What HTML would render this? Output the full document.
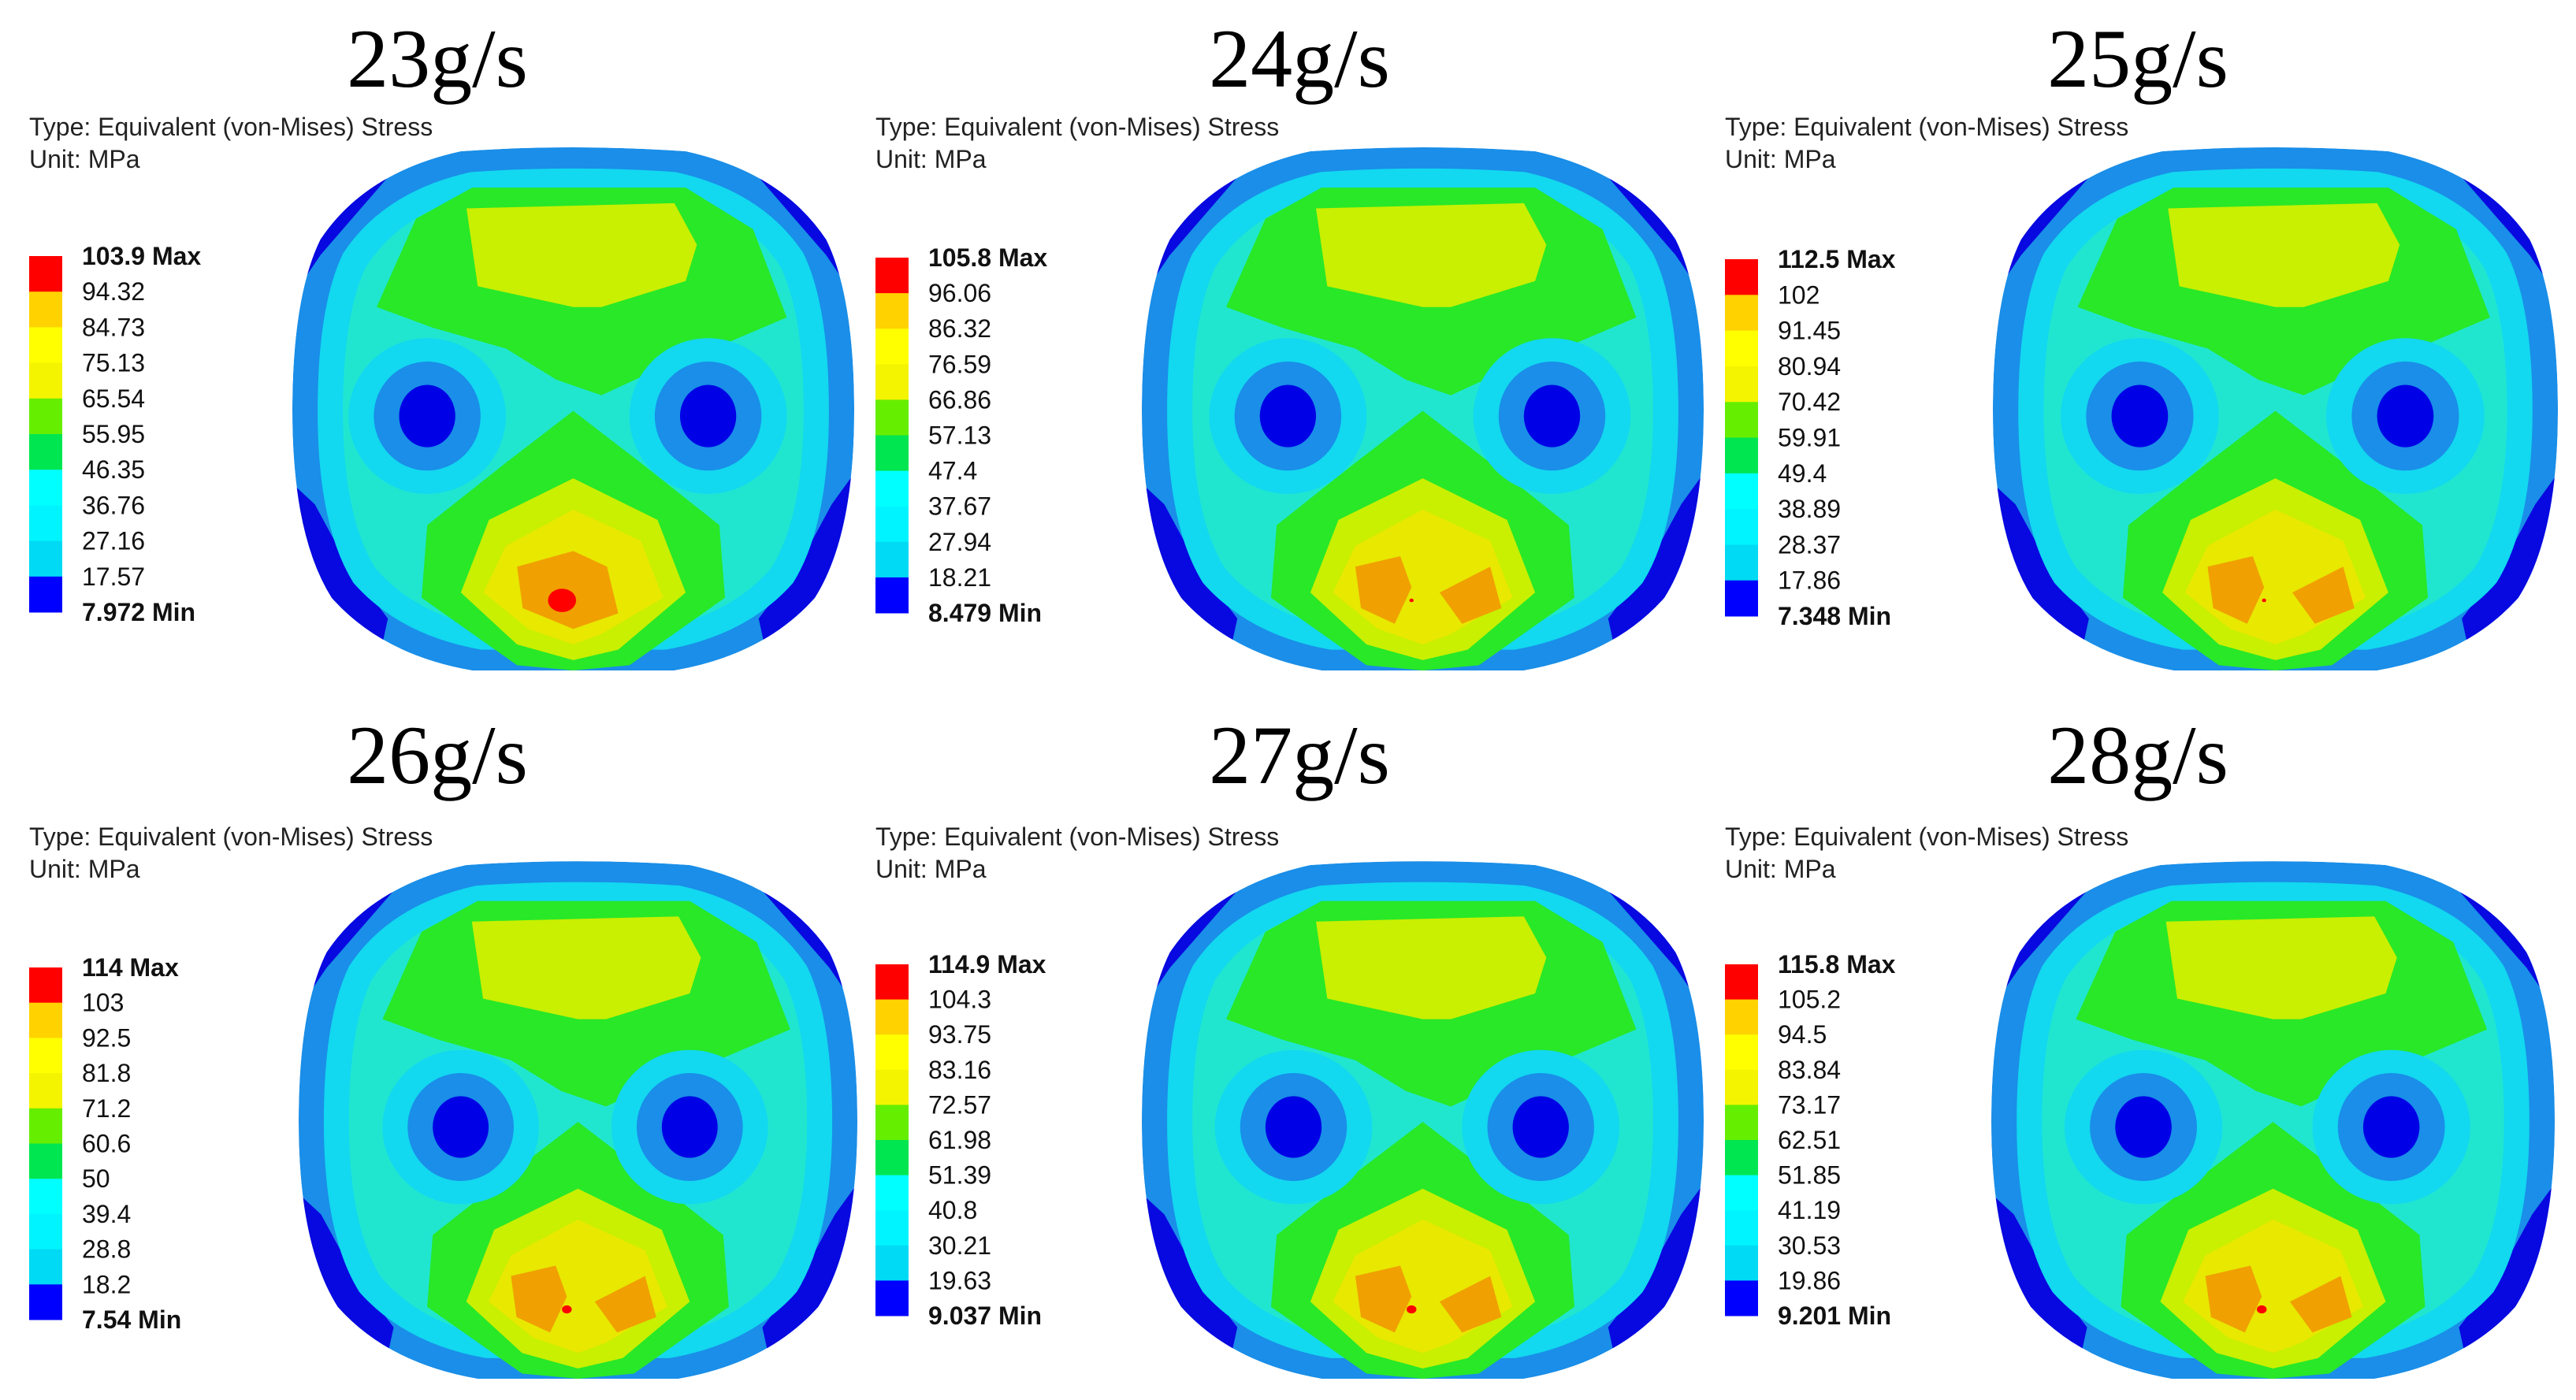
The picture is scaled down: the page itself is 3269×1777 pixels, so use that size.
<!DOCTYPE html>
<html><head><meta charset="utf-8">
<style>
html,body{margin:0;padding:0;background:#fff;}
svg{display:block;}
.title{font-family:"Liberation Serif",serif;font-size:106px;fill:#000;}
.info{font-family:"Liberation Sans",sans-serif;font-size:32px;fill:#222;}
.lab{font-family:"Liberation Sans",sans-serif;font-size:32px;fill:#111;}
.b{font-weight:bold;}
</style></head>
<body>
<svg id="fig" width="3269" height="1777" viewBox="0 0 3269 1777" xmlns="http://www.w3.org/2000/svg"></svg>
<script>
const titles = ["23g/s","24g/s","25g/s","26g/s","27g/s","28g/s"];
const legendLabels = [
 ["103.9","94.32","84.73","75.13","65.54","55.95","46.35","36.76","27.16","17.57","7.972"],
 ["105.8","96.06","86.32","76.59","66.86","57.13","47.4","37.67","27.94","18.21","8.479"],
 ["112.5","102","91.45","80.94","70.42","59.91","49.4","38.89","28.37","17.86","7.348"],
 ["114","103","92.5","81.8","71.2","60.6","50","39.4","28.8","18.2","7.54"],
 ["114.9","104.3","93.75","83.16","72.57","61.98","51.39","40.8","30.21","19.63","9.037"],
 ["115.8","105.2","94.5","83.84","73.17","62.51","51.85","41.19","30.53","19.86","9.201"]
];
const holeX = [[0.24,0.74],[0.26,0.73],[0.26,0.73],[0.29,0.70],[0.27,0.71],[0.27,0.71]];
const redSize = [1.0,0.15,0.15,0.35,0.35,0.35];
const bandColors = ["#ff0000","#ffd200","#ffff00","#f4f400","#66ee00","#00e650","#00ffff","#00f4ff","#00daf4","#0000ff"];

const ox=[37,1111,2189,37,1111,2189];
const tcx=[555,1649,2713,555,1649,2713];
const rowY=[0,0,0,1,1,1];
const legTop=[325,327,329,1228,1224,1224];
const legBot=[777,778,782,1675,1670,1670];
const shp=[[371,192,713,659],[1449,192,713,659],[2529,192,717,659],[379,1098,709,652],[1449,1098,713,652],[2527,1098,715,652]];

const NS="http://www.w3.org/2000/svg";
const svg=document.getElementById('fig');
function mk(tag,attrs,parent){const e=document.createElementNS(NS,tag);for(const k in attrs)e.setAttribute(k,attrs[k]);(parent||svg).appendChild(e);return e;}
const outlineD="M.3 .0Q.5 -.015 .7 .0Q.87 .04 .95 .17Q1 .28 1 .5Q1 .74 .93 .86Q.84 .97 .68 1L.32 1Q.16 .97 .07 .86Q0 .74 0 .5Q0 .28 .05 .17Q.13 .04 .3 .0Z";
function poly(pts,fill,g,name){const p=mk('polygon',{points:pts.map(a=>a.join(',')).join(' '),fill:fill},g);return p;}

for(let i=0;i<6;i++){
  const r=rowY[i];
  const panel=mk('g',{});
  
  
  const t=mk('text',{x:tcx[i],y:r?994:110,'text-anchor':'middle',class:'title'},panel);t.textContent=titles[i];
  
  const ty=mk('text',{x:ox[i],y:r?1073:172,class:'info'},panel);ty.textContent="Type: Equivalent (von-Mises) Stress";
  
  const un=mk('text',{x:ox[i],y:r?1114:213,class:'info'},panel);un.textContent="Unit: MPa";
  
  const lg=mk('g',{},panel);
  const labs=legendLabels[i];const n=labs.length;const step=(legBot[i]-legTop[i])/(n-1);
  for(let k=0;k<n-1;k++){
    const rc=mk('rect',{x:ox[i],y:legTop[i]+k*step,width:42,height:step+0.5,fill:bandColors[k]},lg);
    
  }
  for(let k=0;k<n;k++){
    let txt=labs[k];let cls='lab';
    if(k===0){txt+=' Max';cls+=' b';} if(k===n-1){txt+=' Min';cls+=' b';}
    const tl=mk('text',{x:ox[i]+67,y:legTop[i]+k*step+11,class:cls},lg);tl.textContent=txt;
    
  }
  const [sx,sy,sw,sh]=shp[i];
  const cid='clip'+i;
  const cp=mk('clipPath',{id:cid});mk('path',{d:outlineD},cp);
  const g=mk('g',{transform:`translate(${sx},${sy}) scale(${sw},${sh})`},panel);
  
  const c=mk('g',{'clip-path':`url(#${cid})`},g);
  mk('path',{d:outlineD,fill:'#1a8ee8'},c);
  poly([[0,0],[.25,0],[.17,.05],[.05,.2],[0,.28]],'#0808e0',c,'corner-low');
  poly([[1,0],[.75,0],[.83,.05],[.95,.2],[1,.28]],'#0808e0',c,'corner-low');
  poly([[0,.64],[.04,.68],[.1,.8],[.17,.9],[.15,1],[0,1]],'#0808e0',c,'corner-low');
  poly([[1,.62],[.96,.68],[.9,.8],[.83,.9],[.85,1],[1,1]],'#0808e0',c,'corner-low');
  mk('path',{d:outlineD,fill:'#12d8f0',transform:'translate(.045,.04) scale(.91,.92)'},c);
  mk('path',{d:outlineD,fill:'#20e6d0',transform:'translate(.09,.08) scale(.82,.84)'},c);
  poly([[.15,.3],[.22,.13],[.32,.07],[.7,.07],[.82,.15],[.88,.32],[.75,.38],[.65,.42],[.55,.47],[.47,.44],[.38,.38],[.25,.34]],'#28e828',c,'upper-green');
  poly([[.31,.11],[.68,.1],[.72,.18],[.7,.25],[.55,.3],[.5,.3],[.33,.26]],'#c8f000',c,'upper-yellow');
  poly([[.5,.5],[.62,.6],[.76,.72],[.77,.86],[.6,.99],[.5,1],[.4,.99],[.23,.86],[.24,.72],[.38,.6]],'#28e828',c,'lower-green');
  poly([[.5,.63],[.65,.71],[.7,.85],[.58,.96],[.5,.98],[.4,.95],[.3,.85],[.35,.71]],'#c8f000',c,'lower-yellowgreen');
  poly([[.5,.69],[.62,.75],[.66,.86],[.55,.93],[.5,.95],[.42,.92],[.34,.85],[.38,.76]],'#e8e800',c,'lower-yellow');
  if(redSize[i]>0.5){
    poly([[.4,.8],[.5,.77],[.56,.8],[.58,.89],[.5,.92],[.41,.88]],'#f0a000',c,'lower-orange');
  } else {
    poly([[.38,.8],[.46,.78],[.48,.84],[.45,.91],[.39,.88]],'#f0a000',c,'lower-orange');
    poly([[.53,.85],[.62,.8],[.64,.88],[.57,.91]],'#f0a000',c,'lower-orange');
  }
  const rs=redSize[i]*0.025;
  const red=mk('ellipse',{cx:.48,cy:.865,rx:rs,ry:rs*0.9,fill:'#ff0000'},c);
  
  for(const hx of holeX[i]){
    const h1=mk('ellipse',{cx:hx,cy:.51,rx:.14,ry:.15,fill:'#12d8f0'},c);
    
    const h2=mk('ellipse',{cx:hx,cy:.51,rx:.095,ry:.105,fill:'#1a8ee8'},c);
    
    const h3=mk('ellipse',{cx:hx,cy:.51,rx:.05,ry:.06,fill:'#0000e6'},c);
    
  }
}
</script>
</body></html>
